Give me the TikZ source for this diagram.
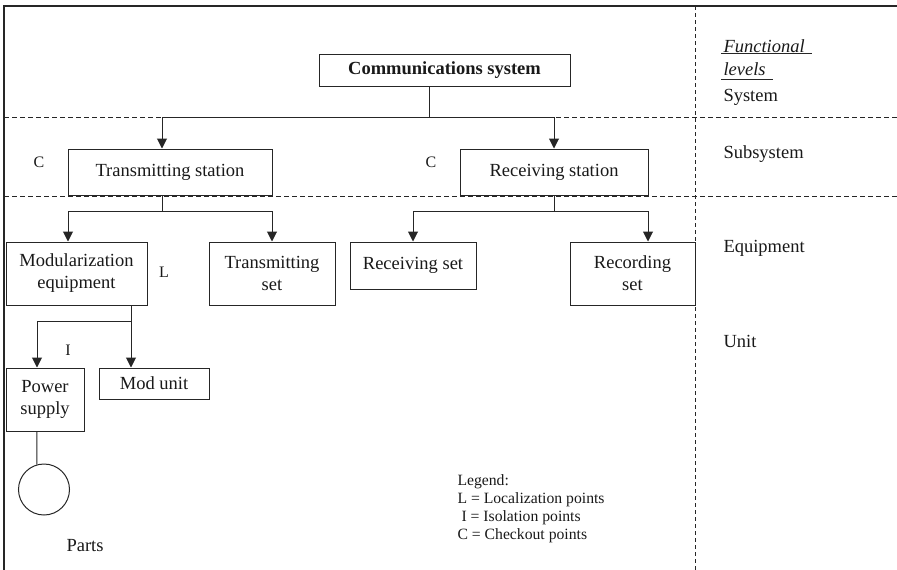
\documentclass[tikz,border=0pt]{standalone}
\usepackage{fontspec}
\setmainfont{Liberation Serif}
\usetikzlibrary{arrows.meta,positioning}

\begin{document}
\begin{tikzpicture}[x=1pt, y=-1pt, line width=1pt, draw=black!85,
    >={Triangle[length=10pt,width=10pt]},
    every node/.style={font=\fontsize{18.5}{22}\selectfont, inner sep=0pt, text=black!90},
    block/.style={draw, align=center},
    levelname/.style={anchor=base west},
    pointlbl/.style={font=\fontsize{16}{18}\selectfont},
    divider/.style={dash pattern=on 5pt off 3pt}
    ]
\useasboundingbox (0,0) rectangle (897,570);
% frame and level dividers
\draw[line width=1.8pt] (897,6) -- (4,6) -- (4,570);
\draw[divider] (4,117) -- (897,117);
\draw[divider] (4,196) -- (897,196);
\draw[dash pattern=on 4pt off 3pt] (695,6) -- (695,570);

% system
\node[block, minimum width=251, minimum height=32, font=\fontsize{18.5}{22}\selectfont\bfseries] (sys) at (444.5,70) {Communications system};
% subsystems
\node[block, minimum width=204, minimum height=46] (ts) at (170,172) {Transmitting station};
\node[block, minimum width=188, minimum height=46] (rs) at (554,172) {Receiving station};
% equipment
\node[block, minimum width=141, minimum height=63] (me) at (76.5,273.5) {Modularization\\equipment};
\node[block, minimum width=126, minimum height=63] (tset) at (272,273.5) {Transmitting\\set};
\node[block, minimum width=126, minimum height=47] (rset) at (413,265.5) {Receiving set};
\node[block, minimum width=125, minimum height=63] (rec) at (632.5,273.5) {Recording\\set};
% units
\node[block, minimum width=78, minimum height=63] (ps) at (45,399.5) {Power\\supply};
\node[block, minimum width=110, minimum height=31] (mu) at (154,383.5) {Mod unit};
% parts
\node[draw, circle, minimum size=51] (part) at (44,489.5) {};
\node (partlbl) at (85,546) {Parts};

% connectors
\coordinate (sysbus) at (429,117);
\draw (sys.south -| sysbus) -- (sysbus);
\draw[->] (sysbus) -| ([xshift=-8]ts.north);
\draw[->] (sysbus) -| (rs.north);

\coordinate (tsbus) at (162,211);
\draw ([xshift=-8]ts.south) -- (tsbus);
\draw[->] (tsbus) -| ([xshift=-8.5]me.north);
\draw[->] (tsbus) -| (tset.north);

\coordinate (rsbus) at (554,211);
\draw (rs.south) -- (rsbus);
\draw[->] (rsbus) -| (rset.north);
\draw[->] (rsbus) -| ([xshift=15.5]rec.north);

\coordinate (mebus) at (131,321);
\draw ([xshift=54.5]me.south) -- (mebus);
\draw[->] (mebus) -| ([xshift=-8]ps.north);
\draw[->] (mebus) -| ([xshift=-23]mu.north);
\draw ([xshift=-8]ps.south) -- (part.106);

% test point marks
\node[pointlbl] (c1) at (39,162) {C};
\node[pointlbl] (c2) at (431,162) {C};
\node[pointlbl] (l1) at (164,272) {L};
\node[pointlbl] (i1) at (68,350) {I};

% legend
\node[pointlbl, font=\fontsize{15.7}{18}\selectfont, anchor=north west, align=left] (legend) at (457,474) {Legend:\\
L = Localization points\\
\hspace{4pt}I = Isolation points\\
C = Checkout points};

% functional levels column
\node[levelname, font=\fontsize{18.5}{22}\selectfont\itshape] (fl1) at (723,52) {Functional};
\node[levelname, font=\fontsize{18.5}{22}\selectfont\itshape] (fl2) at (723,75) {levels};
\draw (721,53.5) -- (812,53.5);
\draw (721,79) -- (773,79);
\node[levelname] (lvsys) at (723,101.5) {System};
\node[levelname] (lvsub) at (723,158) {Subsystem};
\node[levelname] (lveq) at (723,252) {Equipment};
\node[levelname] (lvunit) at (723,347) {Unit};
\end{tikzpicture}
\end{document}
